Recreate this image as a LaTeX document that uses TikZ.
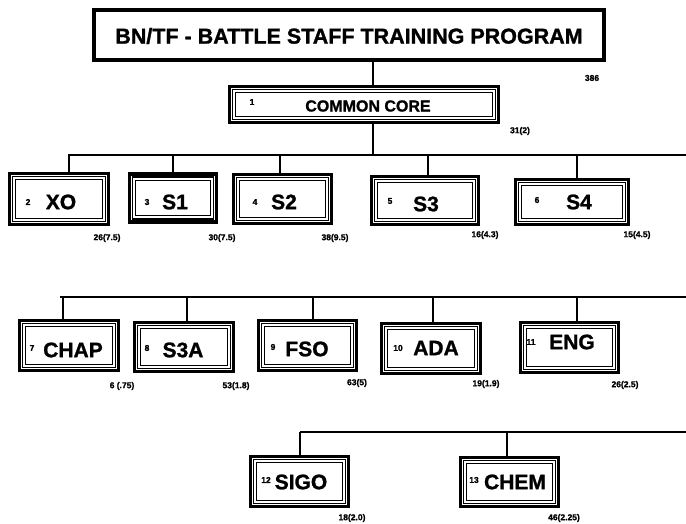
\documentclass[tikz,border=0pt]{standalone}
\usepackage{fontspec}
\setmainfont{Liberation Sans}[BoldFeatures={FakeBold=1.2}]
\tikzset{
  stframe/.style={draw, line width=3.4pt, inner sep=0pt, fill=white},
  stinner/.style={draw, line width=1.5pt},
  stinnermost/.style={draw, line width=0.8pt},
  conn/.style={line width=1.9pt},
  big/.style={font=\fontsize{21}{21}\selectfont\bfseries, inner sep=0pt},
  num/.style={font=\fontsize{8.5}{8.5}\selectfont\bfseries, inner sep=0pt},
  hrs/.style={font=\fontsize{8.5}{8.5}\selectfont\bfseries, inner sep=0pt},
}
\newcommand\stbox[5]{%
  \node[stframe, minimum width=#4pt-3pt, minimum height=#5pt-3pt] (#1) at (#2,#3) {};
  \draw[stinner] ([shift={(4.8pt,4.8pt)}]#1.south west) rectangle ([shift={(-4.8pt,-4.8pt)}]#1.north east);
  \draw[stinnermost] ([shift={(7.8pt,7.8pt)}]#1.south west) rectangle ([shift={(-7.8pt,-7.8pt)}]#1.north east);
}
\begin{document}
\begin{tikzpicture}[x=1pt,y=-1pt]
\useasboundingbox (0,0) rectangle (686,524);
% title
\node[draw, line width=4.5pt, minimum width=510pt, minimum height=50pt, inner sep=0pt] (title) at (349,35) {};
\node[font=\fontsize{21.5}{21.5}\selectfont\bfseries, inner sep=0pt] (titletext) at (349,36) {BN/TF - BATTLE STAFF TRAINING PROGRAM};
\node[hrs] (total) at (592,78) {386};
% common core
\coordinate (tc) at (373,155);
\draw[conn] (tc |- title.south) -- (tc |- 0,85);
\stbox{core}{364}{104.5}{272}{39}
\node[num] (n1) at (252,102) {1};
\node[font=\fontsize{16}{16}\selectfont\bfseries, inner sep=0pt] (coretext) at (368,106) {COMMON CORE};
\node[hrs] (h1) at (520,131) {31(2)};
\draw[conn] (tc |- core.south) -- (tc);
% row 1 bar
\coordinate (b1a) at (68,155);
\coordinate (b1b) at (686,155);
\draw[conn] (b1a) -- (b1b);
\stbox{xo}{59}{199}{102}{54}
\stbox{sone}{173}{198}{90}{51}
\stbox{stwo}{282.5}{199}{101}{52}
\stbox{sthree}{425}{200.5}{110}{51}
\stbox{sfour}{572}{202}{116}{48}
\coordinate (dxo) at (69,155);
\coordinate (dsone) at (173,155);
\coordinate (dstwo) at (280,155);
\coordinate (dsthree) at (428,155);
\coordinate (dsfour) at (577,155);
\foreach \b in {xo,sone,stwo,sthree,sfour} \draw[conn] (d\b) -- (d\b |- \b.north);
\node[num] (n2) at (28,202) {2};
\node[big] (txo) at (61,202) {XO};
\node[num] (n3) at (147,202) {3};
\node[big] (tsone) at (175,202) {S1};
\node[num] (n4) at (255,202) {4};
\node[big] (tstwo) at (284,202) {S2};
\node[num] (n5) at (390,201) {5};
\node[big] (tsthree) at (426,204) {S3};
\node[num] (n6) at (537,200) {6};
\node[big] (tsfour) at (579,202) {S4};
\node[hrs] (hxo) at (107,238) {26(7.5)};
\node[hrs] (hsone) at (222,238) {30(7.5)};
\node[hrs] (hstwo) at (335,238) {38(9.5)};
\node[hrs] (hsthree) at (485,235) {16(4.3)};
\node[hrs] (hsfour) at (637,235) {15(4.5)};
% row 2
\coordinate (b2a) at (60,297);
\coordinate (b2b) at (686,297);
\draw[conn] (b2a) -- (b2b);
\stbox{chap}{69}{345.5}{102}{53}
\stbox{sthreea}{184}{347}{102}{52}
\stbox{fso}{307.5}{345.5}{101}{53}
\stbox{ada}{431}{348.5}{102}{53}
\stbox{eng}{569.5}{347.5}{101}{53}
\coordinate (dchap) at (63,297);
\coordinate (dsthreea) at (187,297);
\coordinate (dfso) at (313,297);
\coordinate (dada) at (433,297);
\coordinate (deng) at (577,297);
\foreach \b in {chap,sthreea,fso,ada,eng} \draw[conn] (d\b) -- (d\b |- \b.north);
\node[num] (n7) at (32,348) {7};
\node[big] (tchap) at (73,350) {CHAP};
\node[num] (n8) at (147,348) {8};
\node[big] (tsthreea) at (183,350) {S3A};
\node[num] (n9) at (273,347) {9};
\node[big] (tfso) at (307,349) {FSO};
\node[num] (n10) at (398,348) {10};
\node[big] (tada) at (436,348) {ADA};
\node[num] (n11) at (531,342) {11};
\node[big] (teng) at (572,342) {ENG};
\node[hrs] (hchap) at (122,386) {6 (.75)};
\node[hrs] (hsthreea) at (236,386) {53(1.8)};
\node[hrs] (hfso) at (357,383) {63(5)};
\node[hrs] (hada) at (486,384) {19(1.9)};
\node[hrs] (heng) at (625,385) {26(2.5)};
% row 3
\coordinate (b3a) at (300,432);
\coordinate (b3b) at (686,432);
\draw[conn] (b3a) -- (b3b);
\stbox{sigo}{299.5}{481.5}{101}{53}
\stbox{chem}{509.5}{482}{101}{52}
\coordinate (dsigo) at (300,432);
\coordinate (dchem) at (507,432);
\foreach \b in {sigo,chem} \draw[conn] (d\b) -- (d\b |- \b.north);
\node[num] (n12) at (266,480) {12};
\node[big] (tsigo) at (301,482) {SIGO};
\node[num] (n13) at (474,480) {13};
\node[big] (tchem) at (515,482) {CHEM};
\node[hrs] (hsigo) at (352,518) {18(2.0)};
\node[hrs] (hchem) at (564,518) {46(2.25)};
\end{tikzpicture}
\end{document}
